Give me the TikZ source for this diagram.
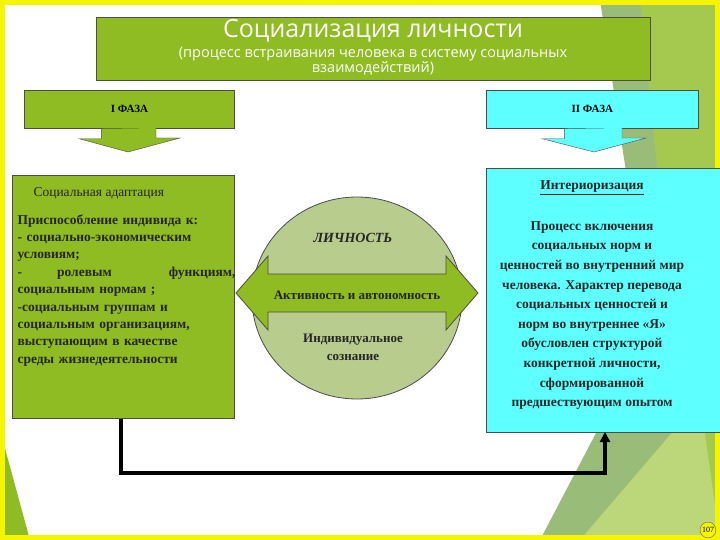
\documentclass[tikz,border=0pt]{standalone}
\usepackage{fontspec}
\setmainfont{Liberation Serif}
\newfontfamily\titlefont{Open Sans}
\usetikzlibrary{arrows.meta}
\definecolor{grn}{HTML}{8FBC22}
\definecolor{dgrn}{HTML}{6FA040}
\definecolor{cyn}{HTML}{5EFFFF}
\definecolor{circ}{HTML}{B8CC8E}
\definecolor{ylw}{HTML}{F5F500}
\tikzset{
 gbox/.style={draw=black!70,fill=grn,line width=0.8pt},
 cbox/.style={draw=black!70,fill=cyn,line width=0.8pt},
 conn/.style={line width=4.5pt,-{Triangle[length=10pt,width=10pt]}}
}
\begin{document}
\begin{tikzpicture}[x=1pt,y=-1pt]
\useasboundingbox (0,0) rectangle (720,540);
\fill[white] (0,0) rectangle (720,540);
% background decorations
\fill[dgrn!70] (600,0) -- (720,0) -- (720,540) -- (540,540) -- (650,330) -- cycle;
\fill[grn!80] (640,0) -- (720,0) -- (720,540) -- (695,540) -- cycle;
\fill[grn!60] (580,540) -- (700,400) -- (720,540) -- cycle;
\fill[grn] (0,430) -- (30,540) -- (0,540) -- cycle;
\draw[ylw,line width=5pt] (2.5,2.5) rectangle (717.5,537.5);
% title
\node[gbox,minimum width=554,minimum height=63,anchor=north west] (title) at (96,17) {};
\node[font=\titlefont\fontsize{25}{26}\selectfont,text=white] (t1) at (373,31) {Социализация личности};
\node[font=\titlefont\fontsize{14.5}{15}\selectfont,text=white,align=center] (t2) at (373,61) {(процесс встраивания человека в систему социальных\\взаимодействий)};
% phases
\node[gbox,minimum width=210,minimum height=38,anchor=north west,font=\fontsize{11}{12}\selectfont\bfseries] (p1) at (24,90) {I ФАЗА};
\node[cbox,minimum width=212,minimum height=38,anchor=north west,font=\fontsize{11}{12}\selectfont\bfseries] (p2) at (486,90) {II ФАЗА};
\filldraw[fill=grn,draw=black!70] (p1.south) ++(-28,0) -- ++(0,10) -- ++(-22,0) -- (128,152) -- (180,138) -- ++(-24,0) -- ++(0,-10);
\filldraw[fill=cyn,draw=black!70] (p2.south) ++(-28,0) -- ++(0,10) -- ++(-22,0) -- (594,152) -- (646,138) -- ++(-24,0) -- ++(0,-10);
% left box
\node[gbox,minimum width=222,minimum height=243,anchor=north west] (lb) at (12,175) {};
\node[anchor=west,font=\fontsize{13.5}{15}\selectfont,text=black!85] (lbt) at (30,193) {Социальная адаптация};
\node[anchor=north west,text width=218,align=left,font=\fontsize{13.5}{17.4}\selectfont\bfseries,text=black!85] (lbb) at (14,211) {Приспособление индивида к:\\- социально-экономическим\\условиям;\\-\hspace{2.6em}ролевым\hfill функциям,\\социальным нормам ;\\-социальным группам и\\социальным организациям,\\выступающим в качестве\\среды жизнедеятельности};
% right box
\node[cbox,minimum width=234,minimum height=264,anchor=north west] (rb) at (486,168) {};
\node[font=\fontsize{13.5}{15}\selectfont\bfseries,text=black!85] (rbt) at (592,188) {\underline{Интериоризация}};
\node[anchor=north,align=center,font=\fontsize{13.5}{19.6}\selectfont\bfseries,text=black!85] (rbb) at (592,218) {Процесс включения\\социальных норм и\\ценностей во внутренний мир\\человека. Характер перевода\\социальных ценностей и\\норм во внутреннее «Я»\\обусловлен структурой\\конкретной личности,\\сформированной\\предшествующим опытом};
% circle
\draw[fill=circ,draw=black!70,line width=0.8pt] (357,298) ellipse (105 and 101);
\node[font=\fontsize{14}{16}\selectfont\bfseries\itshape,text=black!85] (lich) at (353,238) {ЛИЧНОСТЬ};
\filldraw[fill=grn,draw=black!70,line width=0.8pt] (236,293) -- (268,256) -- (268,274) -- (446,274) -- (446,256) -- (478,293) -- (446,330) -- (446,312) -- (268,312) -- (268,330) -- cycle;
\node[font=\fontsize{13}{14}\selectfont\bfseries,text=black!85] (act) at (357,295) {Активность и автономность};
\node[align=center,font=\fontsize{13}{18}\selectfont\bfseries,text=black!85] (soz) at (353,347) {Индивидуальное\\сознание};
% connector
\coordinate (c1) at (121,473);
\coordinate (c2) at (605,473);
\draw[conn] (121,419) -- (c1) -- (c2) -- (605,432);
% page number
\node[circle,fill=ylw,draw=black!60,inner sep=1pt,font=\fontsize{8}{8}\selectfont] (pg) at (708,530) {107};
\end{tikzpicture}
\end{document}
